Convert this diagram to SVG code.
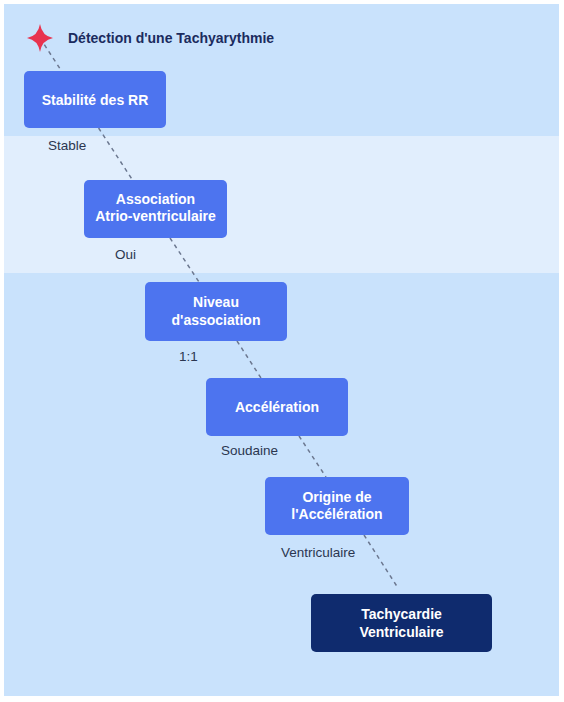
<svg xmlns="http://www.w3.org/2000/svg" width="564" height="702" viewBox="0 0 564 702">
<style>
.node{fill:#4d74ef}
.final{fill:#0f2b6e}
.nt{font-family:"Liberation Sans",Arial,sans-serif;font-size:14px;font-weight:bold;fill:#ffffff;text-anchor:middle}
.lbl{font-family:"Liberation Sans",Arial,sans-serif;font-size:13.5px;fill:#2b3650}
.title{font-family:"Liberation Sans",Arial,sans-serif;font-size:14px;font-weight:bold;fill:#1b2b5e}
.conn{stroke:#6c7890;stroke-width:1.5;stroke-dasharray:4 4;fill:none}
</style>
<rect x="0" y="0" width="564" height="702" fill="#ffffff"/>
<rect x="4" y="4" width="555" height="692" fill="#c9e2fc"/>
<rect x="4" y="136" width="555" height="137" fill="#e1eefd"/>
<g id="connectors">
<line class="conn" x1="40" y1="38" x2="61.5" y2="71"/>
<line class="conn" x1="98.6" y1="128" x2="132.5" y2="180"/>
<line class="conn" x1="170" y1="238" x2="199" y2="282"/>
<line class="conn" x1="237" y1="341" x2="261" y2="378"/>
<line class="conn" x1="299" y1="436" x2="326" y2="477"/>
<line class="conn" x1="364" y1="535" x2="398" y2="588"/>
</g>
<g id="start">
<path d="M40 24 Q42 36 53 38 Q42 40 40 52 Q38 40 27 38 Q38 36 40 24 Z" fill="#e8334f"/>
<text class="title" x="68" y="43">Détection d'une Tachyarythmie</text>
</g>
<g id="n1">
<rect class="node" x="24" y="71" width="142" height="57" rx="5"/>
<text class="nt" x="95" y="105">Stabilité des RR</text>
</g>
<text class="lbl" x="48" y="150">Stable</text>
<g id="n2">
<rect class="node" x="84" y="180" width="143" height="58" rx="5"/>
<text class="nt" x="155.5" y="204">Association</text>
<text class="nt" x="155.5" y="221">Atrio-ventriculaire</text>
</g>
<text class="lbl" x="115" y="259">Oui</text>
<g id="n3">
<rect class="node" x="145" y="282" width="142" height="59" rx="5"/>
<text class="nt" x="216" y="307">Niveau</text>
<text class="nt" x="216" y="325">d'association</text>
</g>
<text class="lbl" x="179" y="361">1:1</text>
<g id="n4">
<rect class="node" x="206" y="378" width="142" height="58" rx="5"/>
<text class="nt" x="277" y="412">Accélération</text>
</g>
<text class="lbl" x="221" y="455">Soudaine</text>
<g id="n5">
<rect class="node" x="265" y="477" width="144" height="58" rx="5"/>
<text class="nt" x="337" y="502">Origine de</text>
<text class="nt" x="337" y="519">l'Accélération</text>
</g>
<text class="lbl" x="281" y="557">Ventriculaire</text>
<g id="n6">
<rect class="final" x="311" y="594" width="181" height="58" rx="5"/>
<text class="nt" x="401.5" y="619">Tachycardie</text>
<text class="nt" x="401.5" y="637">Ventriculaire</text>
</g>
</svg>
